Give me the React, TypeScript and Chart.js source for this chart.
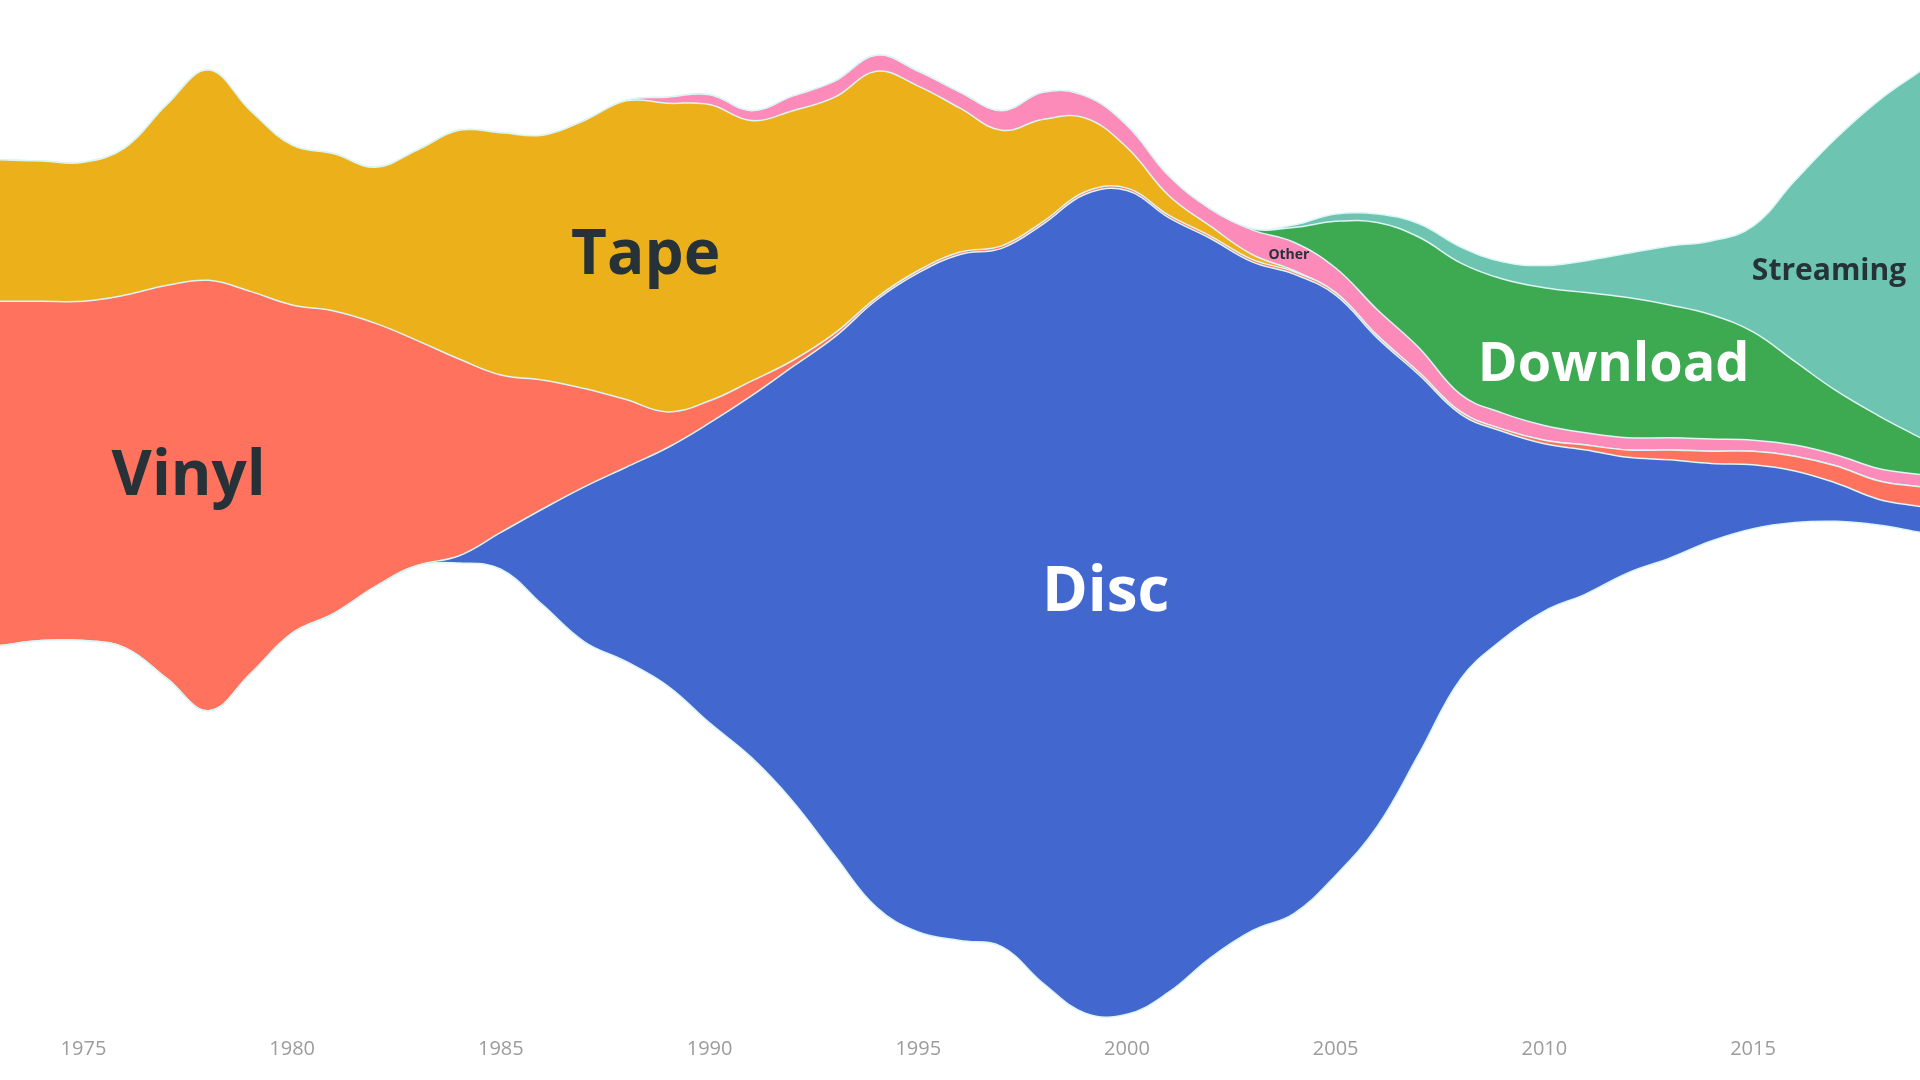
import { useEffect, useRef } from 'react'
import { Chart, registerables } from 'chart.js'

Chart.register(...registerables)

// one point per year, 1973 - 2019
const years = [
  1973, 1974, 1975, 1976, 1977, 1978, 1979, 1980, 1981, 1982,
  1983, 1984, 1985, 1986, 1987, 1988, 1989, 1990, 1991, 1992,
  1993, 1994, 1995, 1996, 1997, 1998, 1999, 2000, 2001, 2002,
  2003, 2004, 2005, 2006, 2007, 2008, 2009, 2010, 2011, 2012,
  2013, 2014, 2015, 2016, 2017, 2018, 2019,
]

// stream offset (invisible bottom layer)
const baseline = [
  316, 320, 320, 314, 289, 263, 293, 326, 342, 364,
  381, 383, 378, 349, 319, 303, 283, 253, 225, 189,
  145, 103, 83, 76, 71, 41, 17, 16, 34, 62,
  84, 98, 129, 169, 228, 289, 321, 344, 358, 375,
  387, 401, 411, 416, 417, 414, 408,
]

const disc = [
  0, 0, 0, 0, 0, 0, 0, 0, 0, 0,
  0, 6, 30, 78, 126, 158, 194, 244, 294, 354,
  422, 494, 536, 558, 568, 618, 666, 670, 630, 585,
  544, 520, 472, 397, 308, 215, 169, 136, 117, 94,
  80, 63, 52, 42, 31, 21, 21,
]

const vinyl = [
  280, 276, 276, 287, 320, 350, 311, 267, 246, 214,
  183, 160, 128, 105, 80, 55, 29, 18, 12, 5,
  3, 2, 2, 2, 2, 2, 2, 2, 2, 2,
  2, 2, 2, 2, 2, 2, 2, 3, 4, 6,
  8, 10, 11, 12, 14, 15, 16,
]

const tape = [
  115, 114, 113, 120, 147, 171, 147, 130, 128, 127,
  155, 186, 197, 199, 218, 243, 251, 241, 212, 203,
  192, 184, 150, 117, 94, 83, 60, 33, 16, 8,
  4, 1, 0, 0, 0, 0, 0, 0, 0, 0,
  0, 0, 0, 0, 0, 0, 0,
]

const other = [
  0, 0, 0, 0, 0, 0, 0, 0, 0, 0,
  0, 0, 0, 0, 0, 0.5, 5, 8, 8, 12,
  13, 13, 12, 13, 16, 22, 18, 18, 16, 14,
  20, 23, 20, 21, 20, 14, 13, 12, 10, 10,
  10, 10, 9, 9, 9, 10, 10,
]

const download = [
  0, 0, 0, 0, 0, 0, 0, 0, 0, 0,
  0, 0, 0, 0, 0, 0, 0, 0, 0, 0,
  0, 0, 0, 0, 0, 0, 0, 0, 0, 0,
  1, 12, 38, 71, 90, 107, 109, 112, 114, 114,
  108, 101, 88, 68, 52, 43, 30,
]

const streaming = [
  0, 0, 0, 0, 0, 0, 0, 0, 0, 0,
  0, 0, 0, 0, 0, 0, 0, 0, 0, 0,
  0, 0, 0, 0, 0, 0, 0, 0, 0, 0,
  0, 2, 6, 7, 11, 13, 14, 18, 26, 36,
  48, 60, 86, 147, 206, 256, 298,
]

const layers = [
  { name: 'Disc', data: disc, color: '#4268d0' },
  { name: 'Vinyl', data: vinyl, color: '#ff735e' },
  { name: 'Tape', data: tape, color: '#ecb01b' },
  { name: 'Other', data: other, color: '#fd8bb9' },
  { name: 'Download', data: download, color: '#3daa51' },
  { name: 'Streaming', data: streaming, color: '#6cc4b1' },
]

// in-chart labels, placed in data space (year, stacked value of the text baseline)
const streamLabels = [
  { text: 'Vinyl', year: 1977.52, value: 438, size: 62, color: '#263238' },
  { text: 'Tape', year: 1988.47, value: 618, size: 62, color: '#263238' },
  { text: 'Disc', year: 1999.49, value: 344, size: 62, color: '#ffffff' },
  { text: 'Download', year: 2011.66, value: 531, size: 54, color: '#ffffff' },
  { text: 'Streaming', year: 2016.82, value: 613, size: 30, color: '#263238' },
  { text: 'Other', year: 2003.88, value: 630, size: 14, color: '#263238' },
]

const edgeColor = '#dcf5f5'
const fontFamily = '"Open Sans", "Noto Sans", sans-serif'

const labelPlugin = {
  id: 'streamLabels',
  afterDatasetsDraw(chart: Chart) {
    const { ctx, scales } = chart
    ctx.save()
    ctx.textAlign = 'center'
    ctx.textBaseline = 'alphabetic'
    streamLabels.forEach(l => {
      ctx.font = `700 ${l.size}px ${fontFamily}`
      ctx.fillStyle = l.color
      ctx.fillText(l.text, scales.x.getPixelForValue(l.year), scales.y.getPixelForValue(l.value))
    })
    ctx.restore()
  },
}

const StreamChart = () => {
  const canvasRef = useRef<HTMLCanvasElement>(null)
  const chartRef = useRef<Chart | null>(null)

  useEffect(() => {
    if (!canvasRef.current) return
    if (chartRef.current) chartRef.current.destroy()

    const toPoints = (arr: number[]) => arr.map((v, i) => ({ x: years[i], y: v }))

    chartRef.current = new Chart(canvasRef.current, {
      type: 'line',
      data: {
        datasets: [
          {
            label: 'base',
            data: toPoints(baseline),
            borderColor: edgeColor,
            borderWidth: 1.5,
            pointRadius: 0,
            fill: false,
          },
          ...layers.map(layer => ({
            label: layer.name,
            data: toPoints(layer.data),
            backgroundColor: layer.color,
            borderColor: edgeColor,
            borderWidth: 1.5,
            pointRadius: 0,
            fill: '-1',
          })),
        ],
      },
      options: {
        responsive: true,
        maintainAspectRatio: false,
        animation: false,
        layout: { padding: { left: 0, right: 0, top: 0, bottom: 16 } },
        elements: { line: { tension: 0.4 } },
        plugins: {
          legend: { display: false },
          tooltip: { enabled: false },
        },
        scales: {
          x: {
            type: 'linear',
            min: 1973,
            max: 2019,
            grid: { display: false, drawTicks: false },
            border: { display: false },
            ticks: {
              stepSize: 5,
              includeBounds: false,
              padding: 3,
              color: '#9c9c9c',
              font: { family: fontFamily, size: 20 },
              callback: (v: number | string) => String(v),
            },
          },
          y: {
            display: false,
            stacked: true,
            min: 0,
            max: 841,
          },
        },
      },
      plugins: [labelPlugin],
    })

    return () => {
      if (chartRef.current) {
        chartRef.current.destroy()
        chartRef.current = null
      }
    }
  }, [])

  return (
    <div style={{ width: 1920, height: 1080, position: 'relative', background: '#ffffff' }}>
      <canvas ref={canvasRef}></canvas>
    </div>
  )
}

export default function App() {
  useEffect(() => {
    document.body.style.margin = '0'
  }, [])
  return <StreamChart />
}
